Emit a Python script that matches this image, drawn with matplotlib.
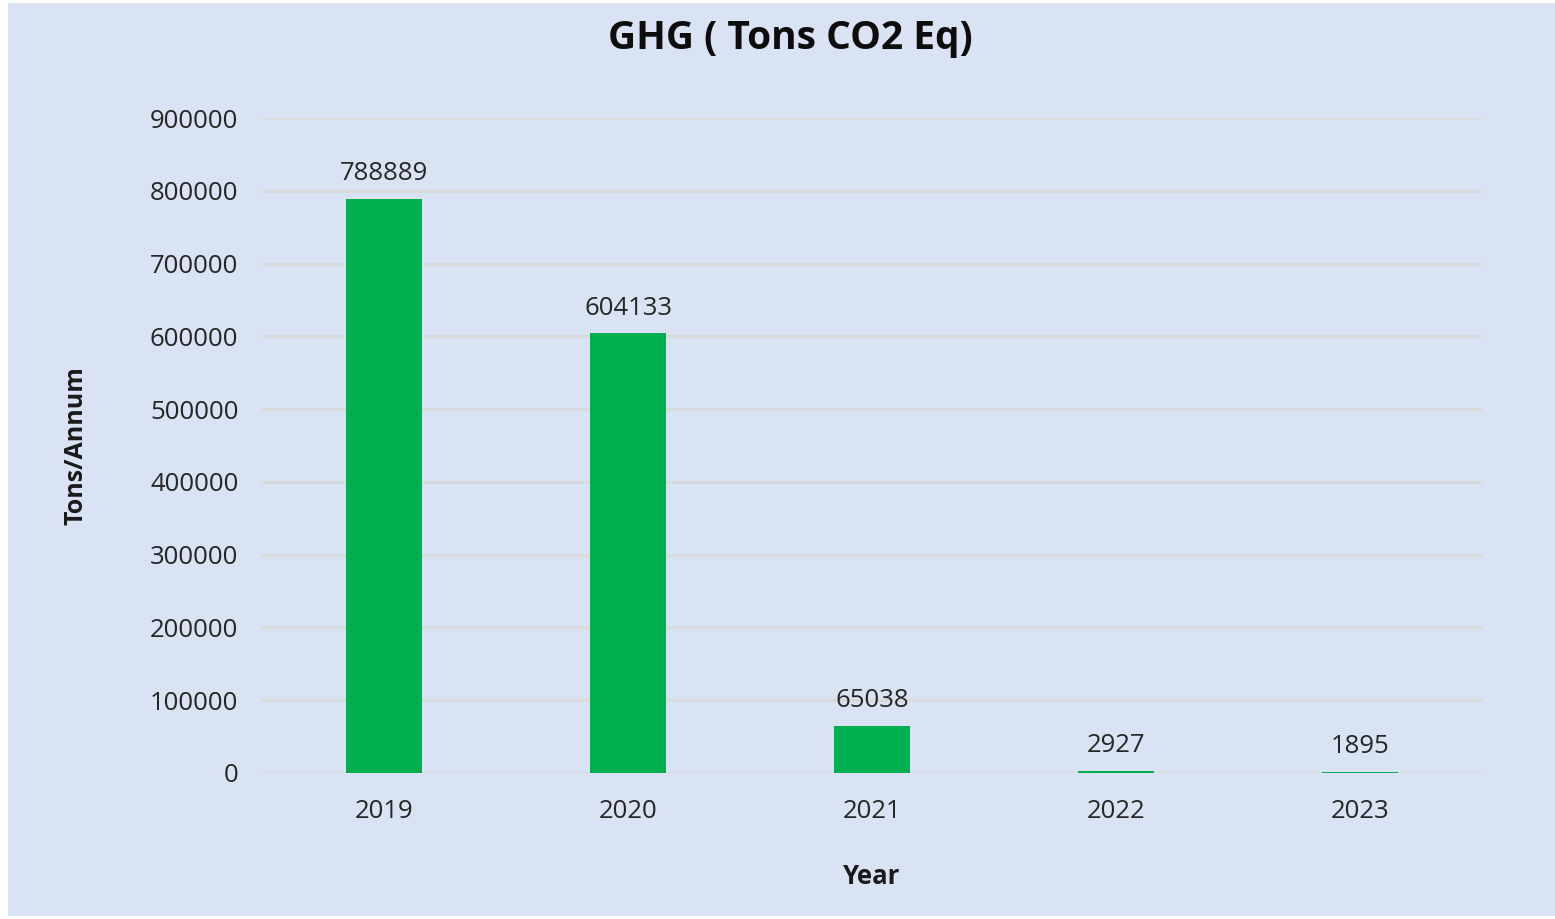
import matplotlib; matplotlib.use("Agg")
import matplotlib.pyplot as plt
from matplotlib.patches import Rectangle

years = ["2019", "2020", "2021", "2022", "2023"]
ghg = [788889, 604133, 65038, 2927, 1895]
yticks = [0, 100000, 200000, 300000, 400000, 500000, 600000, 700000, 800000, 900000]

plt.rcParams["font.family"] = ["Open Sans", "DejaVu Sans"]
BG = "#DAE3F3"
GREEN = "#00B050"

fig = plt.figure(figsize=(15.55, 9.19), dpi=100)
fig.patch.set_facecolor("white")
fig.patches.append(Rectangle((8/1555, 3/919), 1 - 8/1555, 1 - 6/919, transform=fig.transFigure,
                             facecolor=BG, edgecolor="none", zorder=-10))

ax = fig.add_axes([262/1555, 1 - 773/919, 1220/1555, 655/919])
ax.set_facecolor("none")
x = range(len(years))
bars = ax.bar(x, ghg, width=0.31, color=GREEN, zorder=3)
for xi, v in zip(x, ghg):
    ax.annotate(str(v), (xi, v), xytext=(0, 9), textcoords="offset points",
                ha="center", va="bottom", fontsize=18.5, color="#262626")

ax.set_xlim(-0.5, len(years) - 0.5)
ax.set_ylim(0, 900000)
ax.set_yticks(yticks)
ax.set_yticklabels([str(t) for t in yticks])
ax.set_xticks(list(x))
ax.set_xticklabels(years)
ax.tick_params(axis="both", length=0, labelsize=18.5, labelcolor="#262626")
ax.tick_params(axis="y", pad=17)
ax.tick_params(axis="x", pad=19)
ax.grid(axis="y", color="#D9D9D9", lw=2, zorder=0)
for s in ax.spines.values():
    s.set_visible(False)

ax.set_xlabel("Year", fontsize=18.5, fontweight="bold", labelpad=28, color="#1a1a1a")
ax.set_ylabel("Tons/Annum", fontsize=18, fontweight="bold", labelpad=44, color="#1a1a1a")
fig.text(790/1555, 1 - 39/919, "GHG ( Tons CO2 Eq)", ha="center", va="center",
         fontsize=28, fontweight="bold", color="#0d0d0d")

fig.savefig("out.png", dpi=100)
